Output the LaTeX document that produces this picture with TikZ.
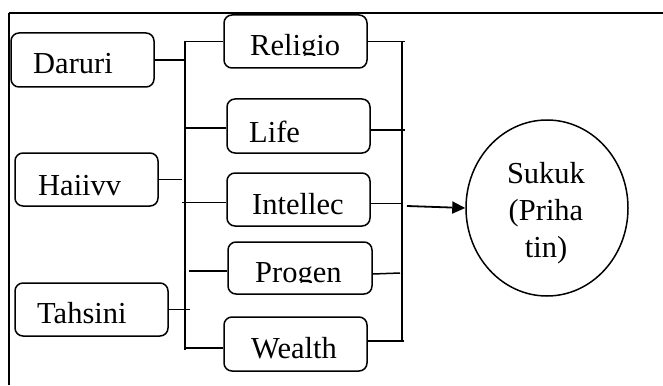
\documentclass[tikz,border=0pt]{standalone}
\usepackage{fontspec}
\setmainfont{Liberation Serif}
\usetikzlibrary{arrows.meta,shapes.geometric}
\begin{document}
\begin{tikzpicture}[x=1pt,y=-1pt,
  box/.style={draw,line width=1.5pt,rounded corners=8pt,inner sep=0pt},
  lbl/.style={inner sep=0pt,anchor=base west,font=\fontsize{30.5}{37}\selectfont},
  clbl/.style={inner sep=0pt,anchor=base,font=\fontsize{30.5}{37}\selectfont},
  conn/.style={line width=1.5pt},
  arr/.style={line width=1.8pt,-{Triangle[length=13pt,width=12pt]}}]
\useasboundingbox (0,0) rectangle (663,385);
% frame
\draw[line width=1.2pt] (9,385) -- (9,13);
\draw[line width=2pt] (8.5,13) -- (663,13);
% boxes
\node[box,minimum width=143pt,minimum height=54pt] (daruri) at (82.5,60) {};
\node[box,minimum width=143pt,minimum height=53pt] (hajiyy) at (86.5,179.5) {};
\node[box,minimum width=153pt,minimum height=53pt] (tahsini) at (91.5,309.5) {};
\node[box,minimum width=143pt,minimum height=53pt] (religio) at (295.5,41.5) {};
\node[box,minimum width=143pt,minimum height=54pt] (life) at (298.5,126) {};
\node[box,minimum width=143pt,minimum height=53pt] (intellec) at (298.5,199.5) {};
\node[box,minimum width=144pt,minimum height=52pt] (progen) at (300,268) {};
\node[box,minimum width=143pt,minimum height=54pt] (wealth) at (295.5,344) {};
\node[draw,line width=1.5pt,ellipse,minimum width=162pt,minimum height=176pt,inner sep=0pt] (sukuk) at (547,208) {};
% texts
\node[lbl] (tdaruri) at (33,74) {Daruri};
\node[lbl] (thajiyy) at (38,195) {Haiivv};
\node[lbl] (ttahsini) at (37,323) {Tahsini};
\begin{scope}
\clip (230,20) rectangle (360,55.5);
\node[lbl] (treligio) at (250,55.5) {Religio};
\end{scope}
\node[lbl] (tlife) at (249,142) {Life};
\node[lbl] (tintellec) at (252,214) {Intellec};
\begin{scope}
\clip (232,246) rectangle (365,282.5);
\node[lbl] (tprogen) at (255,282.5) {Progen};
\end{scope}
\node[lbl] (twealth) at (251,358) {Wealth};
\node[clbl] (ts1) at (546,183) {Sukuk};
\node[clbl] (ts2) at (546,220) {(Priha};
\node[clbl] (ts3) at (546,257) {tin)};
% buses
\coordinate (lbtop) at (185,41);
\coordinate (lbbot) at (185,350);
\coordinate (rbtop) at (402,41);
\coordinate (rbbot) at (402,342);
\draw[conn] (lbtop) -- (lbbot);
\draw[conn] (rbtop) -- (rbbot);
% left connectors
\draw[conn] (daruri.east) -- (daruri.east -| lbtop);
\draw[conn] (hajiyy.east) -- ([xshift=-3pt]hajiyy.east -| lbtop);
\draw[conn] (tahsini.east) -- ([xshift=5pt]tahsini.east -| lbtop);
\draw[conn] (religio.west) -- (religio.west -| lbtop);
\draw[conn] ([yshift=-2pt]life.west) -- ([yshift=-2pt]life.west -| lbtop);
\draw[conn] ([yshift=-3pt]intellec.west) -- ([yshift=-3pt,xshift=-3pt]intellec.west -| lbtop);
\draw[conn] ([yshift=-3pt]progen.west) -- ([yshift=-3pt,xshift=4pt]progen.west -| lbtop);
\draw[conn] ([yshift=-4pt]wealth.west) -- ([yshift=-4pt]wealth.west -| lbtop);
% right connectors
\draw[conn] (religio.east) -- ([xshift=3pt]religio.east -| rbtop);
\draw[conn] ([yshift=-4pt]life.east) -- ([yshift=-4pt,xshift=3pt]life.east -| rbtop);
\draw[conn] ([yshift=-4pt]intellec.east) -- ([yshift=-4pt]intellec.east -| rbtop);
\draw[conn] ([yshift=-6pt]progen.east) -- ([yshift=-5pt,xshift=-2pt]progen.east -| rbtop);
\draw[conn] ([yshift=3pt]wealth.east) -- ([yshift=3pt,xshift=2pt]wealth.east -| rbtop);
% arrow
\draw[arr] ([xshift=5pt,yshift=-6.5pt]intellec.east -| rbtop) -- (sukuk.west);
\end{tikzpicture}
\end{document}
